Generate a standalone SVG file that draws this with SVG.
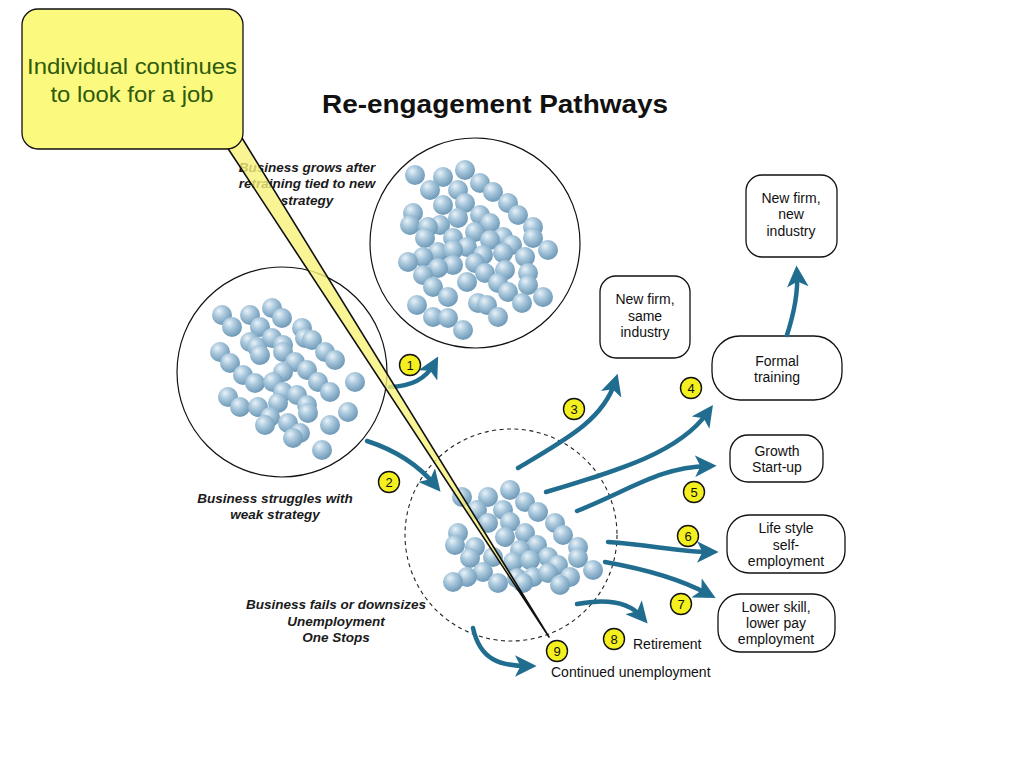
<svg xmlns="http://www.w3.org/2000/svg" width="1024" height="768" viewBox="0 0 1024 768">
<defs>
<radialGradient id="ball" cx="0.4" cy="0.35" r="0.65" fx="0.35" fy="0.3">
<stop offset="0" stop-color="#e9f2f8"/>
<stop offset="0.45" stop-color="#a8c7dc"/>
<stop offset="1" stop-color="#6e99b7"/>
</radialGradient>
<marker id="ah" viewBox="0 0 10 10" refX="6" refY="5" markerWidth="4.8" markerHeight="4.8" markerUnits="strokeWidth" orient="auto">
<path d="M0,0 L10,5 L0,10 L2.5,5 Z" fill="#216d8f"/>
</marker>
<g id="b"><circle r="10" fill="url(#ball)"/></g>
</defs>
<style>
.t{font-family:"Liberation Sans",Arial,sans-serif;fill:#111;}
.n{font-size:14px;text-anchor:middle;}
.lab{font-size:13.5px;font-weight:bold;font-style:italic;text-anchor:middle;fill:#1a1a1a;}
.box{fill:#fff;stroke:#111;stroke-width:1.3;}
.cl{fill:#fff;stroke:#111;stroke-width:1.2;}
.arr{fill:none;stroke:#216d8f;stroke-width:4.5;stroke-linecap:round;marker-end:url(#ah);}
.num circle{fill:#f4ef1e;stroke:#111;stroke-width:1.4;}
.num text{font-family:"Liberation Sans",Arial,sans-serif;font-size:13px;text-anchor:middle;fill:#111;}
</style>
<rect width="1024" height="768" fill="#fff"/>
<text class="t" x="495" y="113" font-size="26" font-weight="bold" text-anchor="middle" textLength="346" lengthAdjust="spacingAndGlyphs">Re-engagement Pathways</text>

<g id="cluster-grow">
<circle class="cl" cx="475" cy="243" r="105"/>
<use href="#b" x="415" y="175"/><use href="#b" x="443" y="177"/><use href="#b" x="465" y="170"/><use href="#b" x="480" y="183"/>
<use href="#b" x="430" y="190"/><use href="#b" x="458" y="190"/><use href="#b" x="493" y="192"/><use href="#b" x="465" y="203"/>
<use href="#b" x="443" y="205"/><use href="#b" x="508" y="203"/><use href="#b" x="518" y="215"/><use href="#b" x="413" y="213"/>
<use href="#b" x="480" y="215"/><use href="#b" x="458" y="218"/><use href="#b" x="410" y="225"/><use href="#b" x="440" y="225"/>
<use href="#b" x="428" y="227"/><use href="#b" x="490" y="223"/><use href="#b" x="533" y="227"/><use href="#b" x="475" y="232"/>
<use href="#b" x="425" y="238"/><use href="#b" x="453" y="238"/><use href="#b" x="503" y="237"/><use href="#b" x="533" y="238"/>
<use href="#b" x="512" y="245"/><use href="#b" x="490" y="240"/><use href="#b" x="467" y="247"/><use href="#b" x="548" y="250"/>
<use href="#b" x="438" y="252"/><use href="#b" x="453" y="250"/><use href="#b" x="423" y="257"/><use href="#b" x="483" y="255"/>
<use href="#b" x="503" y="253"/><use href="#b" x="525" y="257"/><use href="#b" x="408" y="262"/><use href="#b" x="475" y="263"/>
<use href="#b" x="453" y="265"/><use href="#b" x="438" y="268"/><use href="#b" x="423" y="275"/><use href="#b" x="485" y="273"/>
<use href="#b" x="505" y="270"/><use href="#b" x="528" y="273"/><use href="#b" x="467" y="282"/><use href="#b" x="498" y="283"/>
<use href="#b" x="433" y="287"/><use href="#b" x="508" y="292"/><use href="#b" x="528" y="285"/><use href="#b" x="448" y="297"/>
<use href="#b" x="543" y="297"/><use href="#b" x="417" y="305"/><use href="#b" x="478" y="303"/><use href="#b" x="487" y="305"/>
<use href="#b" x="522" y="303"/><use href="#b" x="433" y="317"/><use href="#b" x="448" y="318"/><use href="#b" x="498" y="317"/>
<use href="#b" x="463" y="330"/>
</g>

<g id="cluster-struggle">
<circle class="cl" cx="282" cy="372" r="105"/>
<use href="#b" x="222" y="315"/><use href="#b" x="250" y="315"/><use href="#b" x="272" y="308"/><use href="#b" x="282" y="318"/>
<use href="#b" x="232" y="327"/><use href="#b" x="260" y="327"/><use href="#b" x="302" y="328"/><use href="#b" x="250" y="342"/>
<use href="#b" x="272" y="338"/><use href="#b" x="257" y="347"/><use href="#b" x="283" y="345"/><use href="#b" x="305" y="338"/>
<use href="#b" x="312" y="340"/><use href="#b" x="220" y="352"/><use href="#b" x="260" y="355"/><use href="#b" x="283" y="352"/>
<use href="#b" x="325" y="352"/><use href="#b" x="335" y="360"/><use href="#b" x="230" y="363"/><use href="#b" x="295" y="362"/>
<use href="#b" x="307" y="370"/><use href="#b" x="283" y="372"/><use href="#b" x="243" y="375"/><use href="#b" x="255" y="383"/>
<use href="#b" x="273" y="382"/><use href="#b" x="318" y="382"/><use href="#b" x="330" y="392"/><use href="#b" x="355" y="382"/>
<use href="#b" x="283" y="392"/><use href="#b" x="297" y="395"/><use href="#b" x="228" y="397"/><use href="#b" x="240" y="407"/>
<use href="#b" x="258" y="407"/><use href="#b" x="278" y="403"/><use href="#b" x="307" y="405"/><use href="#b" x="308" y="413"/>
<use href="#b" x="270" y="417"/><use href="#b" x="348" y="412"/><use href="#b" x="265" y="425"/><use href="#b" x="288" y="423"/>
<use href="#b" x="330" y="425"/><use href="#b" x="300" y="433"/><use href="#b" x="293" y="438"/><use href="#b" x="322" y="450"/>
</g>

<g id="cluster-unemployment">
<circle cx="511" cy="535" r="106" fill="none" stroke="#222" stroke-width="1.1" stroke-dasharray="4,3.5"/>
<use href="#b" x="462" y="497"/><use href="#b" x="488" y="497"/><use href="#b" x="510" y="490"/><use href="#b" x="525" y="502"/>
<use href="#b" x="477" y="510"/><use href="#b" x="503" y="510"/><use href="#b" x="538" y="512"/><use href="#b" x="488" y="523"/>
<use href="#b" x="510" y="522"/><use href="#b" x="555" y="523"/><use href="#b" x="563" y="535"/><use href="#b" x="458" y="533"/>
<use href="#b" x="505" y="537"/><use href="#b" x="525" y="533"/><use href="#b" x="537" y="545"/><use href="#b" x="455" y="545"/>
<use href="#b" x="475" y="547"/><use href="#b" x="520" y="550"/><use href="#b" x="578" y="547"/><use href="#b" x="578" y="558"/>
<use href="#b" x="470" y="558"/><use href="#b" x="493" y="557"/><use href="#b" x="548" y="557"/><use href="#b" x="513" y="562"/>
<use href="#b" x="530" y="560"/><use href="#b" x="558" y="565"/><use href="#b" x="593" y="570"/><use href="#b" x="483" y="572"/>
<use href="#b" x="467" y="577"/><use href="#b" x="453" y="582"/><use href="#b" x="498" y="583"/><use href="#b" x="517" y="578"/>
<use href="#b" x="533" y="577"/><use href="#b" x="548" y="573"/><use href="#b" x="570" y="577"/><use href="#b" x="523" y="583"/>
<use href="#b" x="560" y="585"/>
</g>

<g id="labels">
<text class="t lab" x="307" y="172">Business grows after</text>
<text class="t lab" x="307" y="188">retraining tied to new</text>
<text class="t lab" x="307" y="205">strategy</text>
<text class="t lab" x="275" y="503">Business struggles with</text>
<text class="t lab" x="275" y="519">weak strategy</text>
<text class="t lab" x="336" y="609">Business fails or downsizes</text>
<text class="t lab" x="336" y="626">Unemployment</text>
<text class="t lab" x="336" y="642">One Stops</text>
</g>

<g id="node-newfirm-newindustry">
<rect class="box" x="746" y="175" width="91" height="82" rx="16"/>
<text class="t n" x="791" y="203">New firm,</text>
<text class="t n" x="791" y="219">new</text>
<text class="t n" x="791" y="236">industry</text>
</g>
<g id="node-newfirm-sameindustry">
<rect class="box" x="600" y="276" width="90" height="82" rx="16"/>
<text class="t n" x="645" y="304">New firm,</text>
<text class="t n" x="645" y="321">same</text>
<text class="t n" x="645" y="337">industry</text>
</g>
<g id="node-formal-training">
<rect class="box" x="712" y="336" width="130" height="64" rx="28"/>
<text class="t n" x="777" y="366">Formal</text>
<text class="t n" x="777" y="382">training</text>
</g>
<g id="node-growth">
<rect class="box" x="730" y="435" width="93" height="47" rx="18"/>
<text class="t n" x="777" y="456">Growth</text>
<text class="t n" x="777" y="472">Start-up</text>
</g>
<g id="node-lifestyle">
<rect class="box" x="727" y="515" width="118" height="58" rx="22"/>
<text class="t n" x="786" y="533">Life style</text>
<text class="t n" x="786" y="550">self-</text>
<text class="t n" x="786" y="566">employment</text>
</g>
<g id="node-lowerskill">
<rect class="box" x="718" y="594" width="117" height="58" rx="22"/>
<text class="t n" x="776" y="612">Lower skill,</text>
<text class="t n" x="776" y="628">lower pay</text>
<text class="t n" x="776" y="644">employment</text>
</g>
<g id="node-retirement">
<text class="t" x="633" y="649" font-size="14">Retirement</text>
</g>
<g id="node-continued">
<text class="t" x="551" y="677" font-size="14">Continued unemployment</text>
</g>

<g id="connectors">
<path class="arr" d="M390,387 Q422,386 434,364"/>
<path class="arr" d="M367,441 Q410,455 435,485"/>
<path class="arr" d="M518,468 C565,440 603,420 615,382"/>
<path class="arr" d="M546,492 C620,470 680,452 708,412"/>
<path class="arr" d="M577,511 C630,490 660,467 708,466"/>
<path class="arr" d="M608,542 C650,545 682,552 710,552"/>
<path class="arr" d="M605,562 C650,570 682,580 708,594"/>
<path class="arr" d="M577,604 C608,598 630,603 642,617"/>
<path class="arr" d="M473,628 C480,660 500,666 528,666"/>
<path class="arr" d="M787,335 C795,310 798,290 797,274"/>
</g>

<g id="numbers" class="num">
<g><circle cx="410" cy="365" r="10.5"/><text x="410" y="369.5">1</text></g>
<g><circle cx="389" cy="482" r="10.5"/><text x="389" y="486.5">2</text></g>
<g><circle cx="574" cy="409" r="10.5"/><text x="574" y="413.5">3</text></g>
<g><circle cx="691" cy="388" r="10.5"/><text x="691" y="392.5">4</text></g>
<g><circle cx="694" cy="492" r="10.5"/><text x="694" y="496.5">5</text></g>
<g><circle cx="688" cy="536" r="10.5"/><text x="688" y="540.5">6</text></g>
<g><circle cx="681" cy="604" r="10.5"/><text x="681" y="608.5">7</text></g>
<g><circle cx="614" cy="639" r="10.5"/><text x="614" y="643.5">8</text></g>
<g><circle cx="557" cy="651" r="10.5"/><text x="557" y="655.5">9</text></g>
</g>

<g id="callout">
<polygon points="227,147 242,138 549,637" fill="#f7f27a" fill-opacity="0.8" stroke="#111" stroke-width="1.6" stroke-linejoin="round"/>
<rect x="22" y="9" width="221" height="140" rx="16" fill="#fbf97e" stroke="#111" stroke-width="1.3"/>
<text class="t" x="132" y="74" font-size="22.5" text-anchor="middle" style="fill:#2e5b0c" textLength="210" lengthAdjust="spacingAndGlyphs">Individual continues</text>
<text class="t" x="132" y="102" font-size="22.5" text-anchor="middle" style="fill:#2e5b0c" textLength="163" lengthAdjust="spacingAndGlyphs">to look for a job</text>
</g>
</svg>
